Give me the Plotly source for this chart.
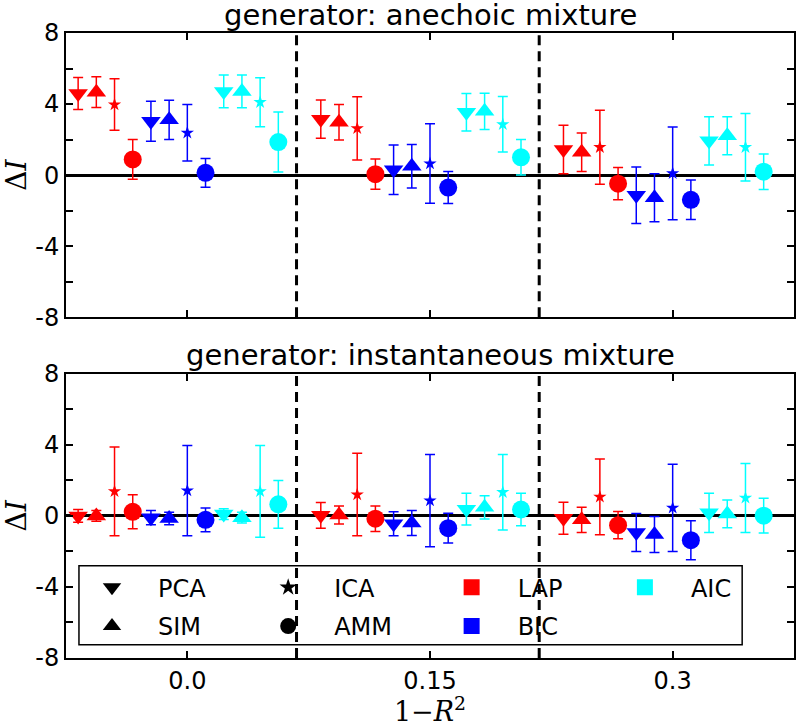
import plotly.graph_objects as go
from plotly.subplots import make_subplots

# 1 - R^2 groups on the x axis
r2_groups = [0.0, 0.15, 0.3]
x_tick_labels = ["0.0", "0.15", "0.3"]
methods = ["PCA", "SIM", "ICA", "AMM"]
criteria = ["LAP", "BIC", "AIC"]
y_tick_vals = [-8, -4, 0, 4, 8]
y_tick_text = ["-8", "-4", "0", "4", "8"]
y_minor_vals = [-6, -2, 2, 6]
separators = [0.0675, 0.2175]

# values ordered group by group (0.0, 0.15, 0.3), inside each group PCA, SIM, ICA, AMM
ane_lap_mean = [4.60, 4.67, 3.97, 0.88, 3.15, 2.98, 2.63, 0.05, 1.44, 1.29, 1.57, -0.48]
ane_lap_err = [0.90, 0.87, 1.45, 1.12, 1.08, 1.00, 1.78, 0.85, 1.36, 1.08, 2.08, 0.91]
ane_bic_mean = [3.03, 3.11, 2.38, 0.13, 0.30, 0.50, 0.65, -0.70, -1.14, -1.27, 0.10, -1.39]
ane_bic_err = [1.13, 1.10, 1.59, 0.81, 1.39, 1.23, 2.24, 0.90, 1.59, 1.35, 2.61, 1.11]
ane_aic_mean = [4.71, 4.71, 4.10, 1.86, 3.54, 3.59, 2.86, 1.00, 1.93, 2.22, 1.57, 0.19]
ane_aic_err = [0.92, 0.92, 1.38, 1.69, 1.06, 1.02, 1.56, 1.00, 1.36, 1.07, 1.90, 1.00]

ins_lap_mean = [0.00, 0.00, 1.38, 0.23, 0.03, 0.05, 1.20, -0.16, -0.13, -0.22, 1.07, -0.52]
ins_lap_err = [0.36, 0.30, 2.50, 0.96, 0.72, 0.50, 2.32, 0.72, 0.90, 0.71, 2.13, 0.77]
ins_bic_mean = [-0.10, -0.15, 1.42, -0.22, -0.44, -0.40, 0.86, -0.69, -0.93, -1.05, 0.45, -1.37]
ins_bic_err = [0.40, 0.35, 2.54, 0.67, 0.68, 0.70, 2.60, 0.84, 1.07, 1.01, 2.45, 1.10]
ins_aic_mean = [0.10, -0.10, 1.38, 0.65, 0.38, 0.48, 1.33, 0.36, 0.17, 0.11, 1.01, 0.01]
ins_aic_err = [0.30, 0.30, 2.58, 1.34, 0.89, 0.66, 2.13, 0.92, 1.10, 0.78, 1.94, 0.98]

panels = [
    ("generator: anechoic mixture",
     {"LAP": (ane_lap_mean, ane_lap_err), "BIC": (ane_bic_mean, ane_bic_err),
      "AIC": (ane_aic_mean, ane_aic_err)}),
    ("generator: instantaneous mixture",
     {"LAP": (ins_lap_mean, ins_lap_err), "BIC": (ins_bic_mean, ins_bic_err),
      "AIC": (ins_aic_mean, ins_aic_err)}),
]

COLORS = {"LAP": "#ff0000", "BIC": "#0000ff", "AIC": "#00ffff"}
SYMBOLS = {"PCA": "triangle-down", "SIM": "triangle-up", "ICA": "star", "AMM": "circle"}
SIZES = {"PCA": 17, "SIM": 17, "ICA": 10, "AMM": 18}
DODGE = 0.01125
FONT = "DejaVu Sans"

fig = make_subplots(rows=2, cols=1, shared_xaxes=True, vertical_spacing=0.0905)

for row, (title, data) in enumerate(panels, start=1):
    for ci, crit in enumerate(criteria):
        means, errs = data[crit]
        for mi, meth in enumerate(methods):
            offset = (ci * 4 + mi - 6) * DODGE
            xs = [g + offset for g in r2_groups]
            ys = [means[gi * 4 + mi] for gi in range(len(r2_groups))]
            es = [errs[gi * 4 + mi] for gi in range(len(r2_groups))]
            fig.add_trace(go.Scatter(
                x=xs, y=ys, mode="markers", showlegend=False,
                marker=dict(symbol=SYMBOLS[meth], size=SIZES[meth], color=COLORS[crit],
                            line=dict(width=0)),
                error_y=dict(type="data", array=es, color=COLORS[crit], thickness=1.5, width=5),
            ), row=row, col=1)
    for sx in separators:
        fig.add_shape(type="line", x0=sx, x1=sx, y0=0, y1=1, xref=f"x{'' if row == 1 else row}",
                      yref=f"y{'' if row == 1 else row} domain",
                      line=dict(color="black", width=3, dash="10px,6px"))
    fig.add_annotation(text=title, x=0.5, xref="paper",
                       y=1.0 if row == 1 else 0.4558, yref="paper",
                       yanchor="bottom", showarrow=False, yshift=-1,
                       font=dict(family=FONT, size=29, color="black"))

# legend: one single-entry legend per slot so the 4x2 grid matches the original
legend_items = [
    ("PCA", "triangle-down", "black", 16),
    ("SIM", "triangle-up", "black", 16),
    ("ICA", "star", "black", 13),
    ("AMM", "circle", "black", 16),
    ("LAP", "square", COLORS["LAP"], 16),
    ("BIC", "square", COLORS["BIC"], 16),
    ("AIC", "square", COLORS["AIC"], 16),
]
col_x = [0.0, 0.0, 0.242, 0.242, 0.494, 0.494, 0.732]
row_y = [0.1124, 0.0505, 0.1124, 0.0505, 0.1124, 0.0505, 0.1124]
for i, (name, sym, col, size) in enumerate(legend_items):
    lname = "legend" if i == 0 else f"legend{i + 1}"
    fig.add_trace(go.Scatter(
        x=[None], y=[None], mode="markers", name=name, legend=lname,
        marker=dict(symbol=sym, color=col, size=size),
    ), row=2, col=1)
    fig.update_layout({lname: dict(
        x=col_x[i], y=row_y[i], xanchor="left", yanchor="middle",
        bgcolor="rgba(0,0,0,0)", borderwidth=0, itemwidth=82,
        font=dict(family=FONT, size=24, color="black"),
    )})

fig.add_shape(type="rect", xref="paper", yref="paper", x0=0.0178, x1=0.9288, y0=0.0213, y1=0.1476,
              line=dict(color="black", width=1.5), fillcolor="white", layer="below")

axis_common = dict(
    showline=True, linecolor="black", linewidth=2, mirror="allticks",
    ticks="inside", ticklen=7, tickwidth=1.5, tickcolor="black",
    showgrid=False, tickfont=dict(family=FONT, size=24, color="black"),
)
fig.update_xaxes(range=[-0.075, 0.375], tickvals=r2_groups, ticktext=x_tick_labels,
                 zeroline=False, **axis_common)
fig.update_xaxes(showticklabels=False, row=1, col=1)
fig.update_xaxes(title=dict(text="1\u2212<i>R</i><sup>2</sup>", standoff=2,
                            font=dict(family="DejaVu Serif", size=27, color="black")), row=2, col=1)
fig.update_yaxes(range=[-8, 8], tickvals=y_tick_vals, ticktext=y_tick_text,
                 minor=dict(tickvals=y_minor_vals, ticks="inside", ticklen=7, tickwidth=1.5,
                            tickcolor="black", showgrid=False),
                 zeroline=True, zerolinecolor="black", zerolinewidth=3,
                 title=dict(text="\u0394<i>I</i>", standoff=8,
                            font=dict(family="DejaVu Serif", size=28, color="black")),
                 **axis_common)

fig.update_layout(
    width=800, height=727,
    margin=dict(l=66, r=4, t=33, b=69),
    paper_bgcolor="white", plot_bgcolor="white",
    font=dict(family=FONT, color="black"),
)

# the page's default body margin would push the figure 8px down and right
fig.write_html("out.html", config={"displayModeBar": False},
               post_script="document.body.style.margin = '0';")
